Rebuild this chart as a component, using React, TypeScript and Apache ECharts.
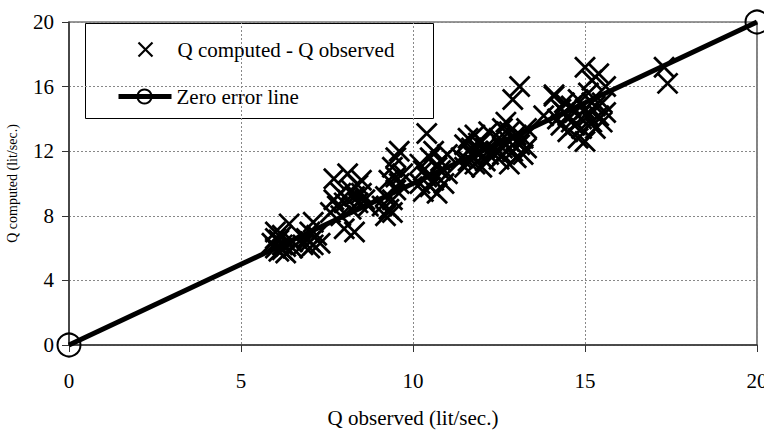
import React, { useEffect, useRef } from "react";
import * as echarts from "echarts";

const xTicks = [0, 5, 10, 15, 20];
const yTicks = [0, 4, 8, 12, 16, 20];

const qObserved = [
  5.9, 6.0, 6.0, 6.1, 6.1, 6.2, 6.2, 6.3, 6.3, 6.4, 6.5, 6.5, 6.0, 6.2,
  6.8, 6.9, 7.0, 7.0, 7.1, 7.1, 7.2, 7.3, 7.0,
  7.6, 7.7, 7.7, 7.8, 7.9, 8.0, 8.0, 8.1, 8.1, 8.2, 8.2, 8.3, 8.3, 8.4, 8.5, 8.5, 8.6, 8.7, 8.4, 7.9,
  9.1, 9.2, 9.2, 9.3, 9.3, 9.4, 9.4, 9.5, 9.5, 9.6, 9.6, 9.7, 9.4, 9.5,
  10.2, 10.2, 10.3, 10.4, 10.4, 10.5, 10.5, 10.6, 10.6, 10.7, 10.8, 10.8, 10.9, 11.0, 11.0, 10.3, 10.7,
  11.4, 11.5, 11.5, 11.6, 11.7, 11.7, 11.8, 11.8, 11.9, 12.0, 12.0, 12.1, 12.1, 12.2, 12.2, 11.6, 11.9, 12.0,
  12.4, 12.5, 12.5, 12.6, 12.6, 12.7, 12.7, 12.8, 12.8, 12.9, 12.9, 13.0, 13.0, 13.1, 13.1, 13.2, 13.2, 13.3, 13.3, 12.6, 13.0, 12.8,
  13.8, 14.1,
  14.1, 14.2, 14.3, 14.3, 14.4, 14.5, 14.5, 14.6, 14.6, 14.7, 14.8, 14.8, 14.9, 14.9, 15.0, 15.0, 15.0, 15.1, 15.1, 15.2, 15.2, 15.3, 15.3, 15.4, 15.4, 15.5, 15.5, 15.6, 15.6, 14.4, 14.7, 15.2,
  17.3, 17.4,
];

const qComputed = [
  6.3, 6.0, 7.0, 6.5, 5.8, 6.2, 6.8, 5.7, 6.1, 7.5, 6.0, 6.4, 6.6, 5.9,
  6.2, 6.6, 6.0, 6.4, 7.6, 6.2, 6.8, 6.3, 7.0,
  8.2, 9.0, 10.3, 8.6, 9.4, 7.2, 8.8, 10.6, 9.0, 8.4, 9.6, 7.0, 9.2, 8.8, 10.2, 9.4, 9.0, 8.6, 9.9, 8.0,
  8.6, 8.0, 9.2, 8.4, 10.2, 9.0, 11.0, 9.6, 11.6, 10.0, 12.0, 10.6, 8.2, 10.4,
  10.0, 11.2, 9.5, 13.1, 10.4, 9.8, 11.6, 10.2, 12.0, 9.4, 10.8, 11.4, 10.0, 10.6, 11.8, 10.8, 11.0,
  11.6, 12.4, 11.0, 12.8, 11.8, 12.2, 11.2, 13.0, 12.0, 11.6, 12.6, 11.4, 12.2, 11.8, 13.2, 11.4, 12.5, 11.0,
  12.0, 11.5, 12.8, 13.4, 11.8, 12.4, 13.8, 11.2, 12.6, 15.2, 12.0, 13.0, 11.6, 16.0, 12.4, 12.8, 11.8, 12.2, 13.4, 12.2, 12.6, 13.2,
  14.2, 15.5,
  15.4, 14.0, 14.6, 13.6, 15.0, 14.2, 13.2, 14.8, 13.8, 14.4, 15.2, 12.8, 14.0, 13.4, 17.2, 14.6, 12.6, 14.2, 15.6, 13.8, 16.4, 14.8, 13.4, 16.8, 14.2, 15.0, 13.8, 14.4, 16.0, 14.4, 13.6, 15.0,
  17.2, 16.2,
];

const zeroLineX = [0, 20];
const zeroLineY = [0, 20];

const seriesNames = ["Q computed - Q observed", "Zero error line"];

const FONT = "'Liberation Serif', 'Times New Roman', 'DejaVu Serif', serif";
const CROSS = "path://M0,0L20,20M20,0L0,20";

export default function App() {
  const ref = useRef<HTMLDivElement>(null);

  useEffect(() => {
    if (!ref.current) return;
    const chart = echarts.init(ref.current, null, { renderer: "svg" });

    const scatterData = qObserved.map((x, i) => [x, qComputed[i]]);
    const lineData = zeroLineX.map((x, i) => [x, zeroLineY[i]]);

    const option: any = {
      animation: false,
      backgroundColor: "#ffffff",
      textStyle: { fontFamily: FONT },
      grid: {
        left: 69,
        right: 7,
        top: 22,
        bottom: 85,
        outerBoundsMode: "none",
        containLabel: false,
        show: true,
        borderColor: "#333",
        borderWidth: 1.2,
        backgroundColor: "transparent",
      },
      xAxis: {
        type: "value",
        min: xTicks[0],
        max: xTicks[xTicks.length - 1],
        interval: xTicks[1] - xTicks[0],
        name: "Q observed (lit/sec.)",
        nameLocation: "middle",
        nameGap: 62,
        nameTextStyle: { fontFamily: FONT, fontSize: 21, color: "#000", verticalAlign: "top" },
        axisLine: { show: true, onZero: false, lineStyle: { color: "#333", width: 1.5 } },
        axisTick: { show: true, inside: false, length: 7, lineStyle: { color: "#333", width: 1 } },
        axisLabel: { fontFamily: FONT, fontSize: 21, color: "#000", margin: 25 },
        splitLine: { show: true, lineStyle: { color: "#888", width: 1, type: [2, 2] } },
      },
      yAxis: {
        type: "value",
        min: yTicks[0],
        max: yTicks[yTicks.length - 1],
        interval: yTicks[1] - yTicks[0],
        name: "Q computed (lit/sec.)",
        nameLocation: "middle",
        nameGap: 50,
        nameTextStyle: { fontFamily: FONT, fontSize: 14, color: "#000" },
        axisLine: { show: true, onZero: false, lineStyle: { color: "#333", width: 1.5 } },
        axisTick: { show: true, inside: false, length: 7, lineStyle: { color: "#333", width: 1 } },
        axisLabel: { fontFamily: FONT, fontSize: 21, color: "#000", margin: 15 },
        splitLine: { show: true, lineStyle: { color: "#888", width: 1, type: [2, 2] } },
      },
      series: [
        {
          name: seriesNames[0],
          type: "scatter",
          data: scatterData,
          symbol: CROSS,
          symbolSize: 20,
          itemStyle: { color: "rgba(0,0,0,0)", borderColor: "#000", borderWidth: 2.8, opacity: 1 },
          z: 2,
        },
        {
          name: seriesNames[1],
          type: "line",
          data: lineData,
          symbol: "circle",
          symbolSize: 23,
          showAllSymbol: true,
          clip: false,
          lineStyle: { color: "#000", width: 5 },
          itemStyle: { color: "rgba(0,0,0,0)", borderColor: "#000", borderWidth: 2, opacity: 1 },
          z: 3,
        },
      ],
      graphic: [
        {
          type: "group",
          left: 85,
          top: 23,
          children: [
            {
              type: "rect",
              shape: { x: 0, y: 0, width: 348, height: 95 },
              style: { fill: "#fff", stroke: "#000", lineWidth: 1 },
            },
            {
              type: "line",
              shape: { x1: 53, y1: 19, x2: 67, y2: 33 },
              style: { stroke: "#000", lineWidth: 2.2 },
            },
            {
              type: "line",
              shape: { x1: 67, y1: 19, x2: 53, y2: 33 },
              style: { stroke: "#000", lineWidth: 2.2 },
            },
            {
              type: "text",
              x: 92,
              y: 26,
              style: {
                text: seriesNames[0],
                fontFamily: FONT,
                fontSize: 21,
                fill: "#000",
                verticalAlign: "middle",
                align: "left",
              },
            },
            {
              type: "line",
              shape: { x1: 33, y1: 73, x2: 86, y2: 73 },
              style: { stroke: "#000", lineWidth: 5 },
            },
            {
              type: "circle",
              shape: { cx: 59, cy: 73, r: 7 },
              style: { fill: "none", stroke: "#000", lineWidth: 2 },
            },
            {
              type: "text",
              x: 91,
              y: 73,
              style: {
                text: seriesNames[1],
                fontFamily: FONT,
                fontSize: 21,
                fill: "#000",
                verticalAlign: "middle",
                align: "left",
              },
            },
          ],
        },
      ],
    };

    chart.setOption(option);
    return () => chart.dispose();
  }, []);

  return (
    <div
      ref={ref}
      style={{ position: "fixed", left: 0, top: 0, width: 764, height: 430, background: "#fff" }}
    />
  );
}
